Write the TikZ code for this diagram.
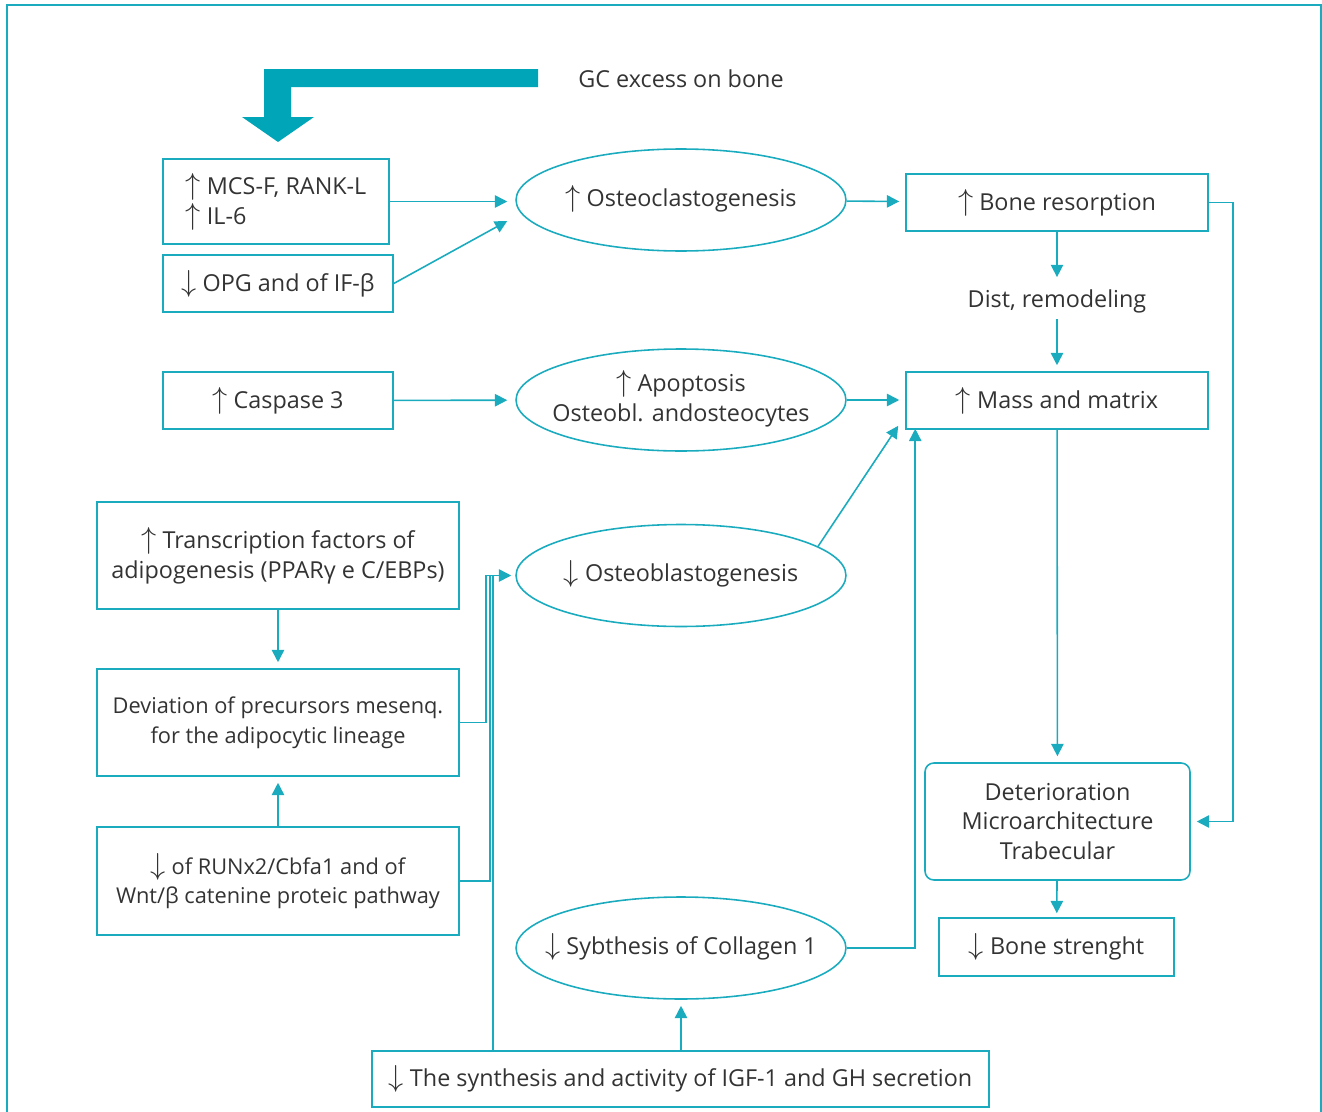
\documentclass[tikz,border=0pt]{standalone}
\usepackage{fontspec}
\setmainfont{Open Sans}
\usepackage{tikz}
\usetikzlibrary{arrows.meta,shapes.geometric}
\definecolor{teal}{RGB}{0,166,184}
\definecolor{tline}{RGB}{26,172,190}
\definecolor{ink}{RGB}{51,51,51}
\newcommand{\up}{{\fontsize{17}{17}\selectfont$\uparrow$}}
\newcommand{\dn}{{\fontsize{17}{17}\selectfont$\downarrow$}}
\newcommand{\ovaltext}[1]{\makebox[0pt]{\begin{tabular}{@{}c@{}}#1\end{tabular}}}

\begin{document}
\begin{tikzpicture}[x=0.02cm,y=-0.02cm,
  font=\fontsize{13.3}{17}\selectfont, text=ink,
  box/.style={draw=tline,line width=0.9pt,rectangle,align=center,inner xsep=2pt},
  oval/.style={draw=tline,line width=0.9pt,ellipse,minimum width=6.6cm,minimum height=2.04cm,inner sep=0pt},
  conn/.style={tline,line width=0.9pt,-{Triangle[length=7pt,width=7pt]}},
  plain/.style={tline,line width=0.9pt}]
\useasboundingbox (0,0) rectangle (1322,1112);
%frame
\draw [tline,line width=1.2pt] (7,1112) -- (7,5) -- (1321,5) -- (1321,1112);
%big arrow
\fill [teal] (264,69) -- (538,69) -- (538,87) -- (291,87) -- (291,117) -- (314,117)
  -- (278,142) -- (242,117) -- (264,117) -- cycle;
\node (gc) at(681,79){GC excess on bone};

%left column
\node [box,minimum width=4.52cm,minimum height=1.70cm,align=left] (mcs) at(276,201.5){\up\ MCS-F, RANK-L\\\up\ IL-6};
\node [box,minimum width=4.6cm,minimum height=1.14cm] (opg) at(278,283.5){\dn\ OPG and of IF-β};
\node [box,minimum width=4.6cm,minimum height=1.14cm] (casp) at(278,400.5){\up\ Caspase 3};
\node [box,minimum width=7.24cm,minimum height=2.14cm] (trans) at(278,555.5){\up\ Transcription factors of\\adipogenesis (PPARγ e C/EBPs)};
\node [box,minimum width=7.24cm,minimum height=2.14cm,font=\fontsize{12.4}{17}\selectfont] (dev) at(278,722.5){Deviation of precursors mesenq.\\for the adipocytic lineage};
\node [box,minimum width=7.24cm,minimum height=2.16cm,font=\fontsize{12.4}{17}\selectfont] (runx) at(278,881){\dn\ of RUNx2/Cbfa1 and of\\Wnt/β catenine proteic pathway};
\node [box,minimum width=12.34cm,minimum height=1.12cm] (igf) at(680.5,1079){\dn\ The synthesis and activity of IGF-1 and GH secretion};

%middle column
\node [oval] (ocl) at(681,200){\ovaltext{\up\ Osteoclastogenesis}};
\node [oval] (apo) at(681,400){\ovaltext{\up\ Apoptosis\\Osteobl. andosteocytes}};
\node [oval] (obl) at(681,575.5){\ovaltext{\dn\ Osteoblastogenesis}};
\node [oval] (col) at(681,948){\ovaltext{\dn\ Sybthesis of Collagen 1}};

%right column
\node [box,minimum width=6.04cm,minimum height=1.14cm] (res) at(1057,202.5){\up\ Bone resorption};
\node (dist) at(1057,301){Dist, remodeling};
\node [box,minimum width=6.04cm,minimum height=1.14cm] (mass) at(1057,400.5){\up\ Mass and matrix};
\node [box,rounded corners=5pt,minimum width=5.3cm,minimum height=2.34cm] (det) at(1057.5,821.5){Deterioration\\Microarchitecture\\Trabecular};
\node [box,minimum width=4.7cm,minimum height=1.16cm] (str) at(1056.5,947){\dn\ Bone strenght};

\draw [conn,shorten >=0.16cm] (mcs.east) -- (mcs.east -| ocl.west);
\draw [conn] (opg.east) -- ([shift={(-8,21)}]ocl.west);
\draw [conn,shorten >=0.16cm] (casp) -- (apo);
\draw [conn,shorten >=0.12cm] (ocl) -- (res);
\draw [conn,shorten >=0.12cm] (apo.east) -- (apo.east -| mass.west);
\draw [conn] (obl.12) -- ([shift={(-7,-4)}]mass.south west);
\draw [conn,shorten >=0.12cm] (res) -- (dist);
\draw [conn,shorten >=0.12cm] (dist) -- (mass);
\draw [conn,shorten >=0.12cm] (res.east) -- ++(24,0) |- (det.east);
\draw [conn,shorten >=0.12cm] (mass) -- (det);
\draw [conn,shorten >=0.08cm] (det) -- (str);
\draw [conn] (col.east) -| ([shift={(10,-1)}]mass.south west);
\draw [conn,shorten >=0.12cm] (trans) -- (dev);
\draw [conn,shorten >=0.12cm] (runx) -- (dev);
\draw [conn,shorten >=0.12cm] (igf.north -| col) -- (col);
\draw [conn,shorten >=0.08cm] (dev.east) -- ++(26,0) |- (obl.west);
\draw [plain,shorten >=0.3cm] (runx.east) -- ++(30,0) |- (obl.west);
\draw [plain,shorten >=0.3cm] ([shift={(122,0)}]igf.north west) |- (obl.west);
\end{tikzpicture}
\end{document}
